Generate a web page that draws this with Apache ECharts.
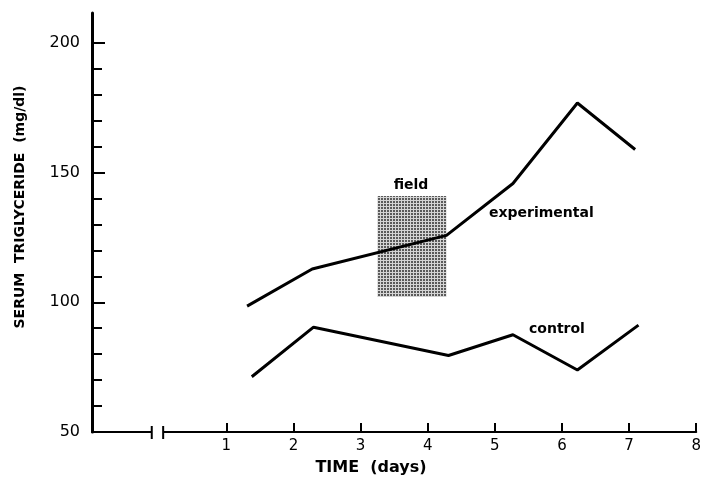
<!DOCTYPE html>
<html>
<head>
<meta charset="utf-8">
<script src="https://cdn.jsdelivr.net/npm/echarts@6/dist/echarts.min.js"></script>
<style>html,body{margin:0;padding:0;background:#fff}#c{width:704px;height:481px}</style>
</head>
<body>
<div id="c"></div>
<script>
// ---- data ----
const expDays = [1.31, 2.28, 4.28, 5.27, 6.23, 7.09];
const expValues = [98.5, 112.8, 125.8, 145.8, 176.8, 158.9];
const ctrlDays = [1.38, 2.30, 4.31, 5.27, 6.23, 7.14];
const ctrlValues = [71.3, 90.4, 79.5, 87.5, 73.9, 91.2];
const fieldStart = 3.25, fieldEnd = 4.28, fieldLow = 102, fieldHigh = 141;
const xTickValues = [1, 2, 3, 4, 5, 6, 7, 8];
const yMajorTicks = [50, 100, 150, 200];
const yMinorTicks = [60, 70, 80, 90, 110, 120, 130, 140, 160, 170, 180, 190];
const axisBreak = [-0.11, 0.06];

const FONT = 'DejaVu Sans';

// halftone pattern for the field box
const pc = document.createElement('canvas');
pc.width = 3; pc.height = 3;
const pctx = pc.getContext('2d');
pctx.fillStyle = '#d4d4d4'; pctx.fillRect(0, 0, 3, 3);
pctx.fillStyle = '#5a5a5a'; pctx.fillRect(0, 0, 2, 2);

const chart = echarts.init(document.getElementById('c'));
chart.setOption({
  animation: false,
  backgroundColor: '#fff',
  grid: { left: 92, right: 2, top: 13, bottom: 49 },
  xAxis: {
    type: 'value', min: -1, max: 8,
    splitLine: { show: false },
    axisLine: { lineStyle: { color: '#000', width: 2 } },
    axisTick: { inside: true, length: 9, customValues: xTickValues, lineStyle: { color: '#000', width: 2 } },
    axisLabel: { customValues: xTickValues, color: '#000', fontFamily: FONT, fontSize: 15, margin: 7 }
  },
  yAxis: [{
    type: 'value', min: 50, max: 211.5,
    splitLine: { show: false },
    axisLine: { onZero: false, lineStyle: { color: '#000', width: 3 } },
    axisTick: { inside: true, length: 13, customValues: yMajorTicks, lineStyle: { color: '#000', width: 2 } },
    axisLabel: { customValues: yMajorTicks, color: '#000', fontFamily: FONT, fontSize: 16, margin: 12 }
  }, {
    type: 'value', min: 50, max: 211.5, position: 'left',
    splitLine: { show: false },
    axisLine: { show: false, onZero: false },
    axisTick: { inside: true, length: 10, customValues: yMinorTicks, lineStyle: { color: '#000', width: 2 } },
    axisLabel: { show: false }
  }],
  series: [{
    name: 'experimental', type: 'line', symbol: 'none',
    data: expDays.map((d, i) => [d, expValues[i]]),
    lineStyle: { color: '#000', width: 3 }, z: 5,
    markArea: {
      silent: true,
      itemStyle: { color: { image: pc, repeat: 'repeat' } },
      data: [[{ coord: [fieldStart, fieldLow] }, { coord: [fieldEnd, fieldHigh] }]]
    }
  }, {
    name: 'control', type: 'line', symbol: 'none',
    data: ctrlDays.map((d, i) => [d, ctrlValues[i]]),
    lineStyle: { color: '#000', width: 3 }, z: 5
  }, {
    type: 'custom', silent: true, z: 10,
    data: [[axisBreak[0], axisBreak[1]]],
    renderItem: function (params, api) {
      const p1 = api.coord([api.value(0), 50]);
      const p2 = api.coord([api.value(1), 50]);
      return {
        type: 'group', children: [
          { type: 'rect', shape: { x: p1[0], y: p1[1] - 3, width: p2[0] - p1[0], height: 6 }, style: { fill: '#fff' } },
          { type: 'line', shape: { x1: p1[0], y1: p1[1] - 6, x2: p1[0], y2: p1[1] + 7 }, style: { stroke: '#000', lineWidth: 2 } },
          { type: 'line', shape: { x1: p2[0], y1: p2[1] - 6, x2: p2[0], y2: p2[1] + 7 }, style: { stroke: '#000', lineWidth: 2 } }
        ]
      };
    }
  }],
  graphic: [
    { type: 'text', x: 20, y: 207, rotation: Math.PI / 2,
      style: { text: 'SERUM  TRIGLYCERIDE  (mg/dl)', fill: '#000', font: 'bold 14px "DejaVu Sans"', align: 'center', verticalAlign: 'middle' } },
    { type: 'text', x: 371, y: 468,
      style: { text: 'TIME  (days)', fill: '#000', font: 'bold 16px "DejaVu Sans"', align: 'center', verticalAlign: 'middle' } },
    { type: 'text', x: 411, y: 185,
      style: { text: 'field', fill: '#000', font: 'bold 14px "DejaVu Sans"', align: 'center', verticalAlign: 'middle' } },
    { type: 'text', x: 489, y: 213,
      style: { text: 'experimental', fill: '#000', font: 'bold 14px "DejaVu Sans"', align: 'left', verticalAlign: 'middle' } },
    { type: 'text', x: 529, y: 329,
      style: { text: 'control', fill: '#000', font: 'bold 14px "DejaVu Sans"', align: 'left', verticalAlign: 'middle' } }
  ]
});
</script>
</body>
</html>
